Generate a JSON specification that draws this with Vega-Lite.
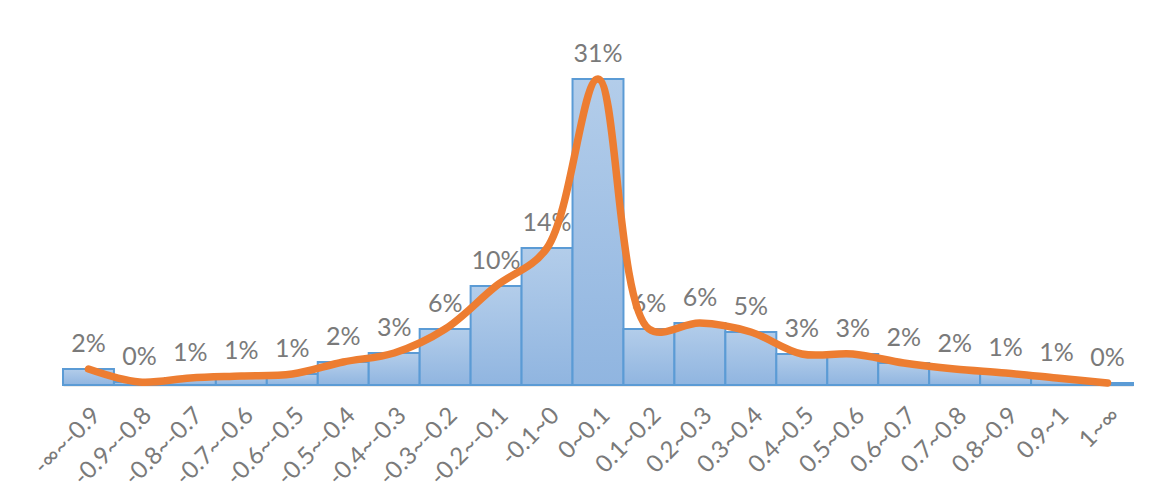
{
  "$schema": "https://vega.github.io/schema/vega-lite/v6.json",
  "width": 1070,
  "height": 350,
  "autosize": {"type": "none"},
  "padding": {"left": 63, "top": 35, "right": 27, "bottom": 114},
  "background": "white",
  "config": {"view": {"stroke": null}, "font": "Lato"},
  "data": {
    "values": [
      {"range": "-∞~-0.9", "share": 0.016},
      {"range": "-0.9~-0.8", "share": 0.003},
      {"range": "-0.8~-0.7", "share": 0.007},
      {"range": "-0.7~-0.6", "share": 0.009},
      {"range": "-0.6~-0.5", "share": 0.011},
      {"range": "-0.5~-0.4", "share": 0.023},
      {"range": "-0.4~-0.3", "share": 0.032},
      {"range": "-0.3~-0.2", "share": 0.056},
      {"range": "-0.2~-0.1", "share": 0.099},
      {"range": "-0.1~0", "share": 0.137},
      {"range": "0~0.1", "share": 0.306},
      {"range": "0.1~0.2", "share": 0.056},
      {"range": "0.2~0.3", "share": 0.062},
      {"range": "0.3~0.4", "share": 0.053},
      {"range": "0.4~0.5", "share": 0.031},
      {"range": "0.5~0.6", "share": 0.031},
      {"range": "0.6~0.7", "share": 0.022},
      {"range": "0.7~0.8", "share": 0.016},
      {"range": "0.8~0.9", "share": 0.012},
      {"range": "0.9~1", "share": 0.007},
      {"range": "1~∞", "share": 0.002}
    ]
  },
  "encoding": {
    "x": {
      "field": "range",
      "type": "nominal",
      "sort": null,
      "scale": {"paddingInner": 0, "paddingOuter": 0},
      "axis": {
        "title": null,
        "labelAngle": -45,
        "labelFontSize": 24,
        "labelColor": "#7a7a7a",
        "labelFont": "Lato",
        "ticks": false,
        "domainColor": "#d9d9d9",
        "domainWidth": 2,
        "labelPadding": 18,
        "grid": false
      }
    },
    "y": {
      "field": "share",
      "type": "quantitative",
      "scale": {"domain": [0, 0.35]},
      "axis": null
    }
  },
  "layer": [
    {
      "mark": {
        "type": "bar",
        "stroke": "#5b9bd5",
        "strokeWidth": 2,
        "color": {
          "gradient": "linear",
          "x1": 0, "y1": 0, "x2": 0, "y2": 1,
          "stops": [
            {"offset": 0, "color": "#b3cdea"},
            {"offset": 1, "color": "#90b5e0"}
          ]
        }
      }
    },
    {
      "mark": {
        "type": "text",
        "baseline": "middle",
        "dy": -25,
        "fontSize": 25,
        "font": "Lato",
        "color": "#7a7a7a"
      },
      "encoding": {
        "text": {"field": "share", "type": "quantitative", "format": ".0%"}
      }
    },
    {
      "mark": {
        "type": "line",
        "interpolate": "catmull-rom",
        "color": "#ed7d31",
        "strokeWidth": 7.5,
        "strokeCap": "round"
      },
      "encoding": {}
    }
  ]
}
